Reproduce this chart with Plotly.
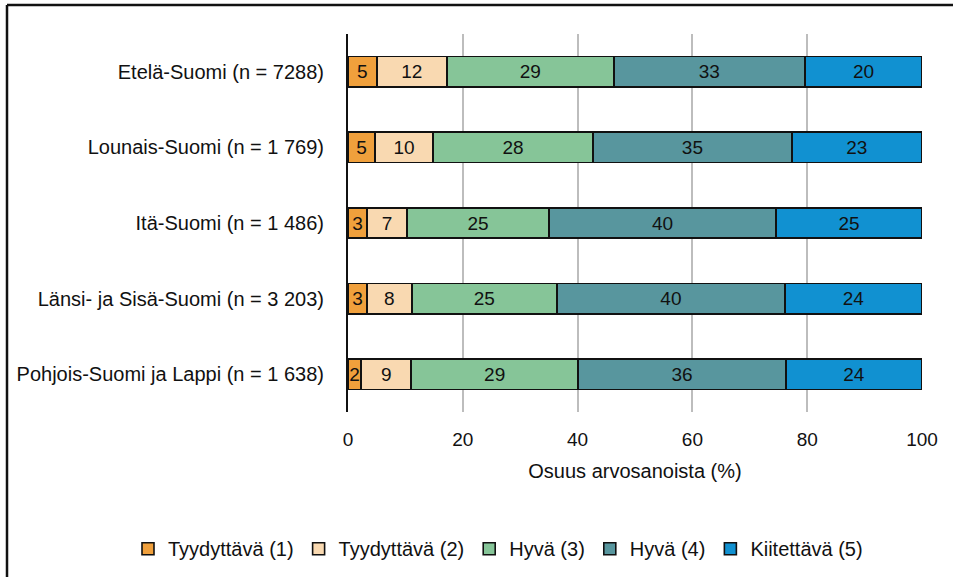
import plotly.graph_objects as go

regions = [
    "Etelä-Suomi (n = 7288)",
    "Lounais-Suomi (n = 1 769)",
    "Itä-Suomi (n = 1 486)",
    "Länsi- ja Sisä-Suomi (n = 3 203)",
    "Pohjois-Suomi ja Lappi (n = 1 638)",
]
series_names = ["Tyydyttävä (1)", "Tyydyttävä (2)", "Hyvä (3)", "Hyvä (4)", "Kiitettävä (5)"]
tyyd1 = [5.0, 4.7, 3.3, 3.3, 2.3]
tyyd2 = [12.2, 10.1, 7.0, 7.8, 8.7]
hyva3 = [29.1, 27.9, 24.7, 25.3, 29.1]
hyva4 = [33.3, 34.6, 39.6, 39.7, 36.2]
kiit5 = [20.4, 22.7, 25.4, 23.9, 23.7]
x_ticks = [0, 20, 40, 60, 80, 100]

colors = ["#F0A03C", "#F9D9B1", "#86C598", "#58969E", "#1191D1"]
FONT = "Liberation Sans Narrow, Arial Narrow, Liberation Sans, Arial, sans-serif"

fig = go.Figure()
for name, vals, col in zip(series_names, [tyyd1, tyyd2, hyva3, hyva4, kiit5], colors):
    fig.add_trace(go.Bar(
        y=regions, x=vals, name=name, orientation="h",
        marker=dict(color=col, line=dict(color="#111111", width=1.6)),
        texttemplate="%{x:.0f}", textposition="inside", insidetextanchor="middle",
        textfont=dict(size=19, color="#111111", family=FONT),
        hoverinfo="x+name",
    ))

fig.update_layout(
    barmode="stack", bargap=0.6,
    width=953, height=577,
    margin=dict(l=348, r=31, t=34, b=165, autoexpand=False),
    paper_bgcolor="white", plot_bgcolor="white",
    font=dict(family=FONT, size=20, color="#111111"),
    uniformtext=dict(minsize=19, mode="show"),
    legend=dict(orientation="h", x=(128 - 348) / 574, xanchor="left", y=-0.31, yanchor="top",
                font=dict(size=20), itemwidth=30, tracegroupgap=0,
                traceorder="normal"),
    xaxis=dict(range=[0, 100], tickvals=x_ticks, showgrid=True, gridcolor="#BDBDBD",
               gridwidth=1.5, zeroline=False, showline=False, ticks="",
               ticklabelstandoff=14,
               title=dict(text="Osuus arvosanoista (%)", standoff=14, font=dict(size=20)),
               tickfont=dict(size=19)),
    yaxis=dict(categoryorder="array", categoryarray=regions[::-1], showline=True,
               linecolor="#111111", linewidth=2, ticks="", ticklabelstandoff=18,
               tickfont=dict(size=20)),
    shapes=[
        dict(type="line", xref="paper", yref="paper", x0=(7 - 348) / 574, x1=(960 - 348) / 574,
             y0=(412 - 5) / 378, y1=(412 - 5) / 378, line=dict(color="#111111", width=2.5)),
        dict(type="line", xref="paper", yref="paper", x0=(7 - 348) / 574, x1=(7 - 348) / 574,
             y0=(412 - 5) / 378, y1=(412 - 590) / 378, line=dict(color="#111111", width=2.5)),
    ],
)

fig.write_html("out.html", post_script="document.body.style.margin='0';",
               config={"displayModeBar": False})
